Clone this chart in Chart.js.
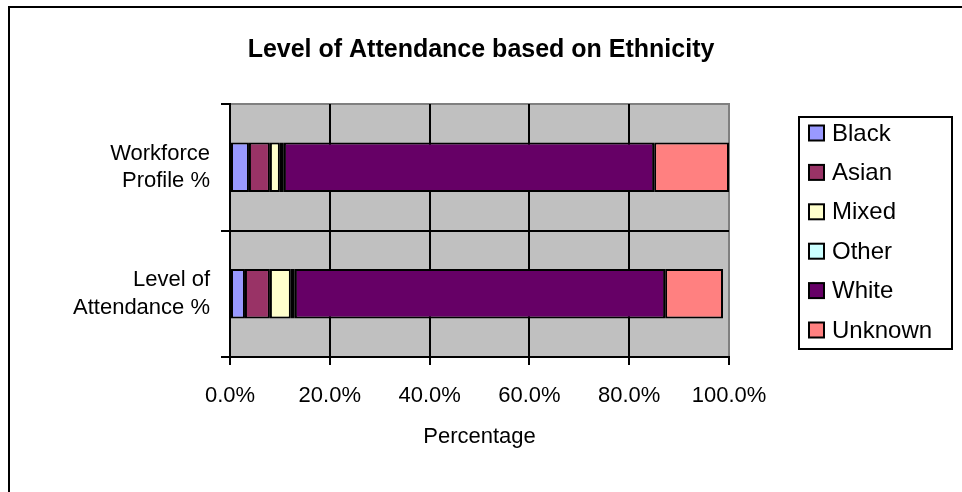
<!DOCTYPE html>
<html><head><meta charset="utf-8">
<script src="https://cdn.jsdelivr.net/npm/chart.js@4/dist/chart.umd.min.js"></script>
<style>html,body{margin:0;padding:0;background:#fff}canvas{display:block}</style>
</head><body>
<canvas id="c" width="962" height="492"></canvas>
<script>
// Share of each ethnic group, in percent, for the two rows of the chart
const categories = [['Workforce', 'Profile %'], ['Level of', 'Attendance %']];
const black   = [3.8, 3.0];
const asian   = [4.2, 5.0];
const mixed   = [2.0, 4.2];
const other   = [0.8, 0.8];
const white   = [74.2, 74.2];
const unknown = [15.0, 11.6];
const xTicks  = [0, 20, 40, 60, 80, 100];

const FONT = "'Liberation Sans', Arial, sans-serif";
Chart.defaults.font.family = FONT;
Chart.defaults.color = '#000';

const seriesDefs = [
  ['Black', black, '#9999FF'],
  ['Asian', asian, '#993366'],
  ['Mixed', mixed, '#FFFFCC'],
  ['Other', other, '#CCFFFF'],
  ['White', white, '#660066'],
  ['Unknown', unknown, '#FF8080']
];

// Frame, grey plot background and the boxed legend
const framePlugin = {
  id: 'frame',
  beforeDraw(chart) {
    const { ctx, chartArea: a } = chart;
    ctx.save();
    ctx.fillStyle = '#fff';
    ctx.fillRect(0, 0, chart.width, chart.height);
    ctx.strokeStyle = '#000';
    ctx.lineWidth = 2;
    ctx.strokeRect(9, 7, chart.width + 20, chart.height + 20);
    ctx.fillStyle = '#C0C0C0';
    ctx.fillRect(a.left, a.top, a.right - a.left, a.bottom - a.top);
    ctx.strokeStyle = '#808080';
    ctx.lineWidth = 2;
    ctx.beginPath();
    ctx.moveTo(a.left, a.top);
    ctx.lineTo(a.right, a.top);
    ctx.lineTo(a.right, a.bottom);
    ctx.stroke();
    ctx.restore();
  },
  afterDraw(chart) {
    const { ctx } = chart;
    const box = { x: 799, y: 117, w: 153, h: 232 };
    ctx.save();
    ctx.strokeStyle = '#000';
    ctx.lineWidth = 2;
    ctx.strokeRect(box.x, box.y, box.w, box.h);
    ctx.font = '24px ' + FONT;
    ctx.textBaseline = 'middle';
    ctx.textAlign = 'left';
    chart.data.datasets.forEach((ds, i) => {
      const cy = 133 + i * 39.4;
      ctx.fillStyle = ds.backgroundColor;
      ctx.fillRect(809, cy - 7.5, 15, 15);
      ctx.lineWidth = 2;
      ctx.strokeStyle = '#000';
      ctx.strokeRect(809, cy - 7.5, 15, 15);
      ctx.fillStyle = '#000';
      ctx.fillText(ds.label, 832, cy + 1);
    });
    ctx.restore();
  }
};

new Chart(document.getElementById('c'), {
  type: 'bar',
  data: {
    labels: categories,
    datasets: seriesDefs.map(([label, data, color]) => ({
      label, data,
      backgroundColor: color,
      borderColor: '#000',
      borderWidth: 2,
      borderSkipped: false,
      barPercentage: 0.39,
      categoryPercentage: 1
    }))
  },
  options: {
    indexAxis: 'y',
    responsive: false,
    animation: false,
    layout: { padding: 0 },
    plugins: {
      legend: { display: false },
      tooltip: { enabled: false },
      title: {
        display: true,
        text: 'Level of Attendance based on Ethnicity',
        font: { size: 25, weight: 'bold', family: FONT },
        color: '#000',
        padding: { top: 35, bottom: 39 }
      }
    },
    scales: {
      x: {
        stacked: true,
        min: 0, max: 100,
        afterBuildTicks: s => { s.ticks = xTicks.map(v => ({ value: v })); },
        afterFit: s => { s.height = 135; },
        ticks: {
          font: { size: 22 },
          padding: 18,
          maxRotation: 0,
          callback: v => Number(v).toFixed(1) + '%'
        },
        grid: {
          color: c => (c.index === xTicks.length - 1 ? 'rgba(0,0,0,0)' : '#000'),
          tickColor: '#000',
          lineWidth: 2,
          tickLength: 8
        },
        border: { display: true, color: '#000', width: 2 },
        title: {
          display: true,
          text: 'Percentage',
          font: { size: 22 },
          padding: { top: 0, bottom: 42 }
        }
      },
      y: {
        stacked: true,
        afterFit: s => { s.width = 230; },
        ticks: {
          font: { size: 22, lineHeight: 1.25 },
          padding: 11
        },
        grid: {
          offset: true,
          color: c => (c.index === 0 ? 'rgba(0,0,0,0)' : '#000'),
          tickColor: '#000',
          lineWidth: 2,
          tickLength: 9
        },
        border: { display: true, color: '#000', width: 2 }
      },
      // empty right-hand band that keeps room for the legend
      legendSpace: {
        axis: 'y',
        type: 'category',
        position: 'right',
        afterFit: s => { s.width = 233; },
        ticks: { display: false },
        grid: { display: false, drawTicks: false },
        border: { display: false }
      }
    }
  },
  plugins: [framePlugin]
});
</script>
</body></html>
